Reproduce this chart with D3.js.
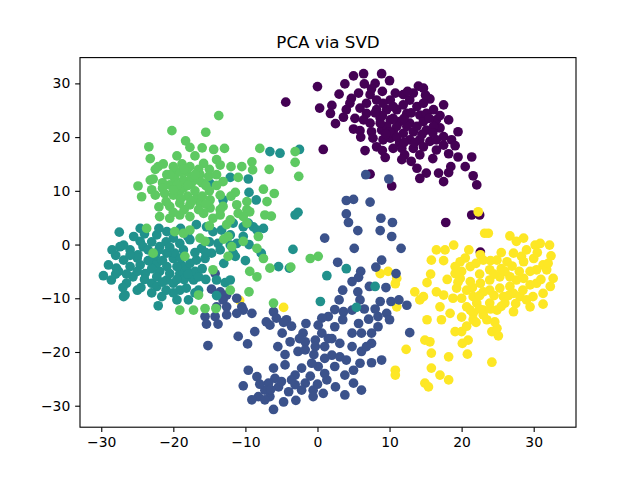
<!DOCTYPE html>
<html lang="en">
<head>
<meta charset="UTF-8">
<title>PCA via SVD</title>
<script src="https://d3js.org/d3.v7.min.js"></script>
<style>
    body { margin: 0; background: #fff; }
    svg { display: block; }
    .tick text { font-family: "DejaVu Sans", sans-serif; font-size: 13.9px; fill: #000; }
    .tick line { stroke: #000; stroke-width: 1.1px; }
    .title { font-family: "DejaVu Sans", sans-serif; font-size: 16.7px; fill: #000; }
</style>
</head>
<body>
<svg id="chart" width="640" height="480"></svg>
<script>
// cluster points, [pc1, pc2]
const cluster0 = [[5.0,31.4],[6.4,31.8],[8.9,31.8],[3.8,29.9],[6.5,29.9],[8.0,30.0],[0.0,29.4],[14.0,29.5],[14.7,29.1],[-4.4,26.5],[0.3,25.4],[2.0,25.9],[1.8,24.4],[3.6,23.7],[4.7,27.2],[4.5,26.3],[7.3,27.9],[8.2,26.9],[5.9,25.4],[5.2,23.5],[6.8,24.4],[10.8,28.2],[11.9,27.9],[10.1,26.9],[12.8,26.9],[15.6,27.1],[13.8,25.7],[16.1,25.1],[9.6,25.1],[11.0,25.1],[12.4,24.4],[14.2,24.1],[8.7,23.5],[10.1,23.2],[11.4,22.9],[12.8,22.6],[14.7,22.9],[16.5,23.2],[18.2,23.2],[5.0,21.5],[5.9,21.2],[7.5,21.0],[8.9,21.3],[7.7,19.8],[9.1,19.5],[10.5,21.0],[11.9,20.7],[13.3,21.0],[15.1,21.3],[17.0,21.7],[10.1,19.8],[11.4,18.9],[12.8,19.5],[14.2,19.5],[15.6,19.2],[17.5,20.1],[18.6,19.5],[19.1,18.4],[6.6,17.5],[8.2,18.2],[9.4,16.2],[11.7,17.9],[12.1,16.7],[11.7,15.8],[14.2,16.7],[16.5,17.6],[18.2,16.9],[19.5,16.3],[21.4,16.3],[0.8,17.7],[13.8,14.2],[15.1,13.3],[16.8,13.3],[18.2,13.4],[14.2,12.3],[17.5,11.7],[21.6,12.8],[22.1,11.1],[10.3,10.9],[7.3,13.1],[8.2,25.1],[9.6,22.0],[11.0,22.0],[11.9,26.0],[13.3,28.2],[14.7,26.3],[15.1,24.4],[16.1,22.0],[13.8,22.0],[12.4,22.0],[8.7,22.6],[7.3,22.6],[6.4,23.2],[4.0,25.1],[5.7,28.2],[6.8,26.3],[9.1,26.3],[10.5,25.7],[16.5,19.5],[14.7,18.2],[13.3,17.9],[10.5,17.9],[17.8,4.1],[21.4,5.5],[22.5,5.5],[22.6,-1.4],[9.0,24.0],[10.5,23.5],[12.0,23.5],[13.0,24.5],[10.0,21.0],[12.0,19.0],[13.5,19.0],[11.0,20.0],[9.5,20.5],[15.5,23.5],[17.0,24.0],[14.5,20.5],[16.0,20.8],[8.0,24.5],[6.0,20.0],[9.0,28.5],[12.5,28.5],[7.5,29.0],[10.0,30.5],[9.0,17.5],[13.0,15.5],[16.0,16.0],[17.5,18.5],[19.5,21.0],[18.5,14.5],[20.5,14.5],[3.0,28.0],[2.5,22.5],[15.0,27.8],[17.5,26.0]];

const cluster1 = [[6.7,13.0],[9.9,12.2],[4.0,8.2],[5.0,8.4],[7.3,7.9],[4.0,5.7],[4.3,4.1],[5.6,2.6],[8.8,4.9],[10.4,4.1],[8.7,2.6],[10.3,1.5],[1.0,1.2],[5.1,-0.7],[11.6,-0.7],[2.8,-3.3],[8.9,-2.9],[8.1,-4.2],[10.9,-5.4],[5.7,-6.1],[4.8,-6.9],[7.2,-7.8],[5.6,-8.8],[5.9,-10.3],[3.0,-10.3],[8.7,-10.6],[10.2,-10.6],[11.3,-10.3],[12.4,-11.3],[9.6,-12.8],[2.4,-12.1],[4.8,-12.2],[3.6,-12.5],[7.1,-13.9],[1.5,-13.4],[0.6,-13.7],[-10.5,-11.6],[-14.2,-5.4],[-14.7,-8.3],[-13.5,-8.8],[-12.6,-9.4],[-13.1,-10.3],[-12.6,-11.6],[-11.2,-10.0],[-10.3,-12.2],[-9.1,-12.8],[-11.2,-12.8],[-14.0,-11.6],[-15.6,-13.4],[-14.2,-13.4],[-12.6,-13.1],[-15.4,-14.8],[-13.8,-14.8],[-6.1,-12.5],[-5.7,-13.7],[-4.3,-14.0],[-7.1,-14.4],[-15.2,-18.8],[-6.6,-15.0],[-4.7,-14.5],[-3.6,-15.2],[-1.6,-14.7],[-8.7,-16.2],[-11.0,-17.1],[-9.7,-18.5],[-4.9,-16.5],[-3.8,-18.1],[-1.7,-18.1],[-0.3,-17.8],[0.6,-16.5],[0.1,-15.0],[2.4,-15.3],[5.7,-14.7],[8.4,-13.4],[6.1,-16.5],[7.5,-16.5],[8.4,-15.3],[4.8,-16.5],[3.1,-18.4],[4.8,-19.0],[6.1,-19.9],[7.5,-18.4],[12.8,-16.4],[-2.7,-19.9],[-1.7,-19.6],[-0.3,-19.0],[1.0,-19.0],[2.0,-20.6],[3.1,-20.9],[1.0,-21.2],[0.1,-22.7],[-0.8,-22.1],[-2.2,-23.0],[-3.1,-24.3],[-4.5,-22.4],[-6.1,-23.0],[-5.9,-24.9],[-6.8,-25.8],[-7.3,-27.1],[-6.6,-28.3],[-8.2,-28.3],[-9.1,-28.9],[-6.1,-30.7],[-4.7,-29.3],[-4.0,-27.4],[-3.1,-26.1],[-1.7,-25.8],[-2.2,-27.1],[-0.6,-27.1],[-0.6,-28.3],[0.8,-27.7],[1.3,-25.2],[2.4,-22.7],[3.8,-24.3],[5.0,-23.4],[5.9,-22.1],[7.5,-22.0],[8.9,-21.5],[5.0,-25.8],[6.1,-27.1],[3.8,-28.0],[-9.6,-23.4],[-8.4,-24.6],[-10.3,-26.3],[-7.3,-28.9],[-5.4,-26.5],[-3.6,-25.2],[2.0,-17.5],[-1.0,-24.5],[-4.5,-20.5],[6.8,-19.0],[-2.0,-16.5],[1.5,-17.5],[3.5,-14.0],[6.5,-12.0],[8.0,-12.0],[-6.5,-27.0],[-5.0,-25.5],[-8.0,-26.0],[-3.0,-29.0],[0.0,-26.0],[2.5,-26.5],[-0.5,-20.5],[4.0,-21.5],[1.0,-24.0],[-2.5,-17.5],[-5.5,-19.0],[10.0,-14.0],[6.0,-5.0],[3.5,-8.5],[9.5,-8.0]];

const cluster2 = [[-6.6,17.3],[-5.2,17.0],[-2.5,17.7],[-12.1,12.5],[-9.6,12.2],[-14.9,11.4],[-9.5,9.7],[-13.1,8.3],[-8.5,8.3],[-2.7,6.0],[-27.5,2.3],[-24.6,3.0],[-26.9,-0.1],[-27.4,-0.4],[-24.6,0.6],[-24.2,-0.4],[-24.9,-1.9],[-22.3,1.8],[-20.9,2.4],[-20.0,1.2],[-19.1,0.2],[-17.7,0.9],[-16.8,3.7],[-15.4,3.3],[-14.5,2.4],[-13.3,2.7],[-11.7,4.0],[-10.3,3.3],[-8.9,3.3],[-7.5,3.0],[-29.0,-3.8],[-29.7,-5.8],[-28.6,-6.6],[-27.6,-5.0],[-26.9,-2.9],[-26.0,-4.1],[-25.6,-6.0],[-24.6,-3.8],[-23.9,-5.4],[-23.0,-7.2],[-22.3,-7.8],[-21.9,-5.0],[-20.9,-4.1],[-20.0,-2.6],[-19.8,-1.6],[-18.9,-3.8],[-18.2,-4.7],[-17.5,-6.0],[-16.8,-2.9],[-15.6,-2.6],[-20.9,-6.6],[-20.0,-7.2],[-19.1,-8.5],[-18.2,-8.1],[-17.2,-6.6],[-19.5,-10.3],[-17.9,-10.3],[-21.6,-9.7],[-22.1,-11.4],[-26.7,-9.4],[-26.9,-9.7],[-13.8,0.2],[-12.1,1.8],[-11.2,0.2],[-11.7,-1.6],[-10.3,1.5],[-8.4,2.7],[-7.8,-1.6],[-5.4,-4.1],[-3.9,-4.4],[-14.0,-6.6],[-12.8,-7.1],[-12.1,-6.6],[-16.1,-0.7],[-14.7,-1.6],[-23.2,-2.9],[-22.3,-3.5],[-20.5,-5.4],[-19.1,-5.4],[-17.7,-3.5],[-26.0,-1.0],[-21.9,-0.4],[-20.9,-1.6],[-18.6,-1.0],[-22.3,-6.0],[-19.5,-4.1],[-26.5,-7.2],[-27.9,-4.4],[-12.1,-0.1],[-11.4,-2.2],[-3.4,-0.9],[-3.1,5.5],[1.3,-5.8],[4.0,-4.5],[8.0,-7.8],[0.4,-10.6],[5.4,-11.7],[-9.6,4.0],[-25.0,-2.5],[-23.5,-1.0],[-22.5,-2.0],[-21.5,-3.0],[-24.0,-6.5],[-21.5,-7.0],[-20.0,-9.0],[-18.5,-6.5],[-17.0,-5.0],[-16.0,-4.5],[-15.5,-6.5],[-19.0,-2.5],[-21.0,0.5],[-23.0,0.5],[-25.5,1.5],[-28.0,-2.0],[-27.0,-8.0],[-25.0,-8.5],[-16.5,-8.5],[-18.0,1.5],[-15.0,0.5],[-13.0,-3.5],[-9.5,0.0],[-10.0,-3.0],[-14.0,-9.5],[-23.0,-9.0],[-28.5,-1.0],[-26.0,-2.0],[-25.0,-5.0],[-23.0,-4.5],[-22.0,-1.0],[-20.5,-0.5],[-19.5,-6.5],[-18.0,-5.5],[-16.5,-6.0],[-17.0,-9.0],[-21.0,-8.5],[-24.5,-8.0],[-28.0,-5.5],[-26.5,-5.5],[-23.5,-3.0],[-24.0,2.0],[-22.0,3.0],[-19.0,3.0],[-17.0,-1.5],[-15.5,-1.5],[-13.5,-1.0]];

const cluster3 = [[-13.7,24.0],[-20.2,21.2],[-15.5,20.9],[-18.3,19.3],[-17.7,18.1],[-23.4,18.2],[-14.4,17.7],[-12.9,17.9],[-8.0,17.9],[-23.2,16.0],[-22.1,14.5],[-21.4,15.0],[-18.8,15.0],[-17.7,14.5],[-15.8,15.1],[-14.0,15.8],[-13.5,14.8],[-9.1,15.4],[-9.0,13.9],[-6.7,14.0],[-3.1,15.3],[-3.1,17.3],[-2.6,12.7],[-24.9,10.9],[-24.4,8.9],[-23.2,12.0],[-22.8,12.2],[-23.0,10.2],[-22.5,9.2],[-21.2,9.5],[-20.5,11.1],[-19.8,13.9],[-19.8,12.3],[-18.6,12.0],[-18.2,13.6],[-17.5,11.4],[-16.3,13.0],[-15.1,12.7],[-14.0,13.0],[-13.1,11.7],[-11.4,9.7],[-13.5,9.2],[-7.5,10.3],[-9.8,8.0],[-14.9,8.3],[-16.8,8.6],[-19.1,9.9],[-20.0,9.2],[-20.9,13.0],[-18.6,10.5],[-20.5,7.1],[-19.1,7.7],[-17.7,7.4],[-16.3,7.7],[-14.9,6.8],[-13.1,7.1],[-11.2,7.4],[-9.8,6.5],[-21.9,5.2],[-20.5,4.9],[-19.1,5.5],[-17.7,5.2],[-15.8,5.8],[-14.5,4.9],[-13.5,5.5],[-12.1,4.6],[-11.0,5.8],[-9.4,6.1],[-7.3,5.5],[-6.4,5.3],[-19.8,2.4],[-18.6,2.1],[-17.7,2.7],[-16.3,1.2],[-15.6,0.6],[-12.6,3.7],[-9.8,4.0],[-8.2,1.5],[-10.3,0.6],[-11.9,-0.4],[-12.4,-2.2],[-8.4,-0.7],[-7.5,-2.6],[-6.6,-4.4],[-9.4,-5.0],[-8.4,-6.0],[-18.4,-2.2],[-22.8,-1.6],[-23.7,3.0],[-14.5,-4.7],[-12.1,-8.5],[-9.5,-8.8],[-6.1,-10.9],[-19.1,-12.2],[-17.2,-12.2],[-15.6,-11.9],[-14.1,-11.9],[-16.5,-9.4],[-10.3,5.2],[-12.4,1.5],[-1.0,-2.6],[0.1,-2.2],[-3.7,-4.2],[-19.5,11.0],[-17.0,10.0],[-16.0,11.5],[-18.0,9.0],[-15.0,10.0],[-17.5,12.5],[-19.0,13.5],[-16.5,14.0],[-20.0,14.5],[-14.0,11.0],[-21.5,11.5],[-16.0,9.0],[-21.5,10.5],[-20.0,10.2],[-18.0,11.0],[-16.5,12.0],[-15.5,11.0],[-17.0,13.0],[-18.5,14.0],[-20.5,13.0],[-19.0,8.5],[-17.5,8.0],[-15.5,7.5],[-13.5,6.5],[-12.0,9.0],[-21.0,8.0],[-22.0,7.0],[-16.5,6.5],[-18.5,6.5],[-20.0,6.0],[-15.0,14.0],[-12.0,14.5],[-11.0,12.5],[-10.5,14.5],[-22.5,14.0],[-17.0,16.5],[-19.5,16.5],[-16.0,18.0],[-15.0,3.5],[-13.0,1.0],[-7.0,8.0],[-6.0,9.5]];

const cluster4 = [[22.3,6.1],[23.2,2.1],[23.7,2.1],[26.7,1.6],[27.6,0.6],[28.6,1.2],[30.2,-0.1],[30.9,0.2],[32.2,-0.1],[32.4,-2.1],[32.7,-6.3],[31.3,-11.1],[16.5,-1.0],[17.7,-1.0],[18.9,-0.1],[15.8,-2.9],[15.7,-5.5],[15.2,-7.1],[13.5,-8.8],[14.2,-10.3],[14.7,-9.7],[16.5,-8.8],[17.5,-9.4],[17.0,-11.6],[15.2,-14.0],[17.2,-14.0],[18.4,-12.8],[19.1,-16.2],[20.0,-16.2],[20.7,-15.2],[20.1,-18.4],[20.9,-17.8],[20.8,-20.4],[18.2,-20.9],[14.9,-17.8],[15.6,-18.1],[15.8,-20.2],[12.3,-19.5],[10.8,-23.4],[10.8,-24.3],[15.8,-23.0],[17.0,-24.3],[18.2,-25.2],[14.9,-25.8],[15.4,-26.5],[24.2,-21.9],[24.2,-16.2],[25.1,-17.0],[24.9,-15.6],[24.6,-14.4],[22.6,-1.9],[23.0,-2.9],[19.8,-3.2],[19.1,-4.1],[20.0,-5.0],[21.2,-4.1],[23.9,-4.7],[24.9,-2.9],[26.3,-3.2],[27.2,-1.6],[28.3,-2.2],[28.6,-3.2],[30.0,-2.6],[31.3,-3.8],[30.4,-4.7],[31.8,-4.7],[29.5,-5.0],[30.4,-7.2],[28.6,-6.3],[27.6,-6.6],[26.7,-6.0],[25.3,-6.0],[23.9,-6.6],[22.6,-7.2],[21.2,-6.9],[19.8,-6.3],[19.1,-5.4],[19.3,-8.1],[18.8,-10.0],[20.7,-8.5],[21.6,-9.7],[22.1,-10.9],[20.7,-11.6],[21.6,-12.8],[23.0,-12.2],[23.9,-10.9],[24.9,-12.2],[25.8,-9.7],[27.2,-9.1],[28.1,-9.7],[29.0,-10.3],[29.5,-11.6],[29.9,-9.7],[31.3,-9.1],[32.3,-7.8],[27.2,-12.5],[26.0,-10.9],[23.9,-8.5],[25.3,-8.1],[26.7,-7.8],[23.0,-8.8],[21.6,-14.0],[23.0,-13.1],[21.2,-12.2],[8.7,-5.4],[9.8,-5.0],[11.0,-6.3],[10.8,-7.3],[11.0,-11.6],[-10.8,-10.4],[-4.7,-11.7],[20.5,-2.5],[22.0,-3.5],[24.0,-3.0],[25.5,-4.5],[27.0,-4.0],[22.5,-5.5],[24.5,-5.5],[26.0,-5.0],[28.0,-5.0],[21.5,-8.0],[22.5,-9.5],[24.5,-9.5],[25.5,-11.5],[27.5,-11.0],[28.5,-8.5],[26.5,-9.5],[24.0,-12.0],[22.5,-12.0],[20.0,-10.0],[19.5,-7.0],[18.0,-6.5],[17.5,-3.0],[21.0,-1.0],[25.5,-1.5],[29.0,-1.0],[30.5,-1.5],[32.0,-3.5],[29.5,-7.5],[31.0,-6.5],[22.0,-14.5],[23.5,-14.0],[20.0,-13.5]];

// viridis at 0, .25, .5, .75, 1 for labels 0..4
const clusterColors = ["#440154", "#3b528b", "#21918c", "#5ec962", "#fde725"];
const drawOrder = [0, 4, 1, 2, 3];
const xTicks = [-30, -20, -10, 0, 10, 20, 30];
const yTicks = [-30, -20, -10, 0, 10, 20, 30];
const xLimits = [-32.95, 35.87];
const yLimits = [-34.0, 34.8];
const chartTitle = "PCA via SVD";

const clusters = [cluster0, cluster1, cluster2, cluster3, cluster4];

const margin = {left: 80, right: 64, top: 57.6, bottom: 52.8};
const width = 640, height = 480;
const svg = d3.select("#chart");

const x = d3.scaleLinear().domain(xLimits).range([margin.left, width - margin.right]);
const y = d3.scaleLinear().domain(yLimits).range([height - margin.bottom, margin.top]);

const points = [];
drawOrder.forEach(k => {
    clusters[k].forEach(p => points.push({x: p[0], y: p[1], label: k}));
});

svg.append("g")
    .selectAll("circle")
    .data(points)
    .join("circle")
    .attr("cx", d => x(d.x))
    .attr("cy", d => y(d.y))
    .attr("r", 4.85)
    .attr("fill", d => clusterColors[d.label]);

const xAxis = svg.append("g")
    .attr("transform", `translate(0,${height - margin.bottom})`)
    .call(d3.axisBottom(x).tickValues(xTicks).tickSize(4.86).tickPadding(4.86).tickFormat(d3.format("d")));
xAxis.select(".domain").remove();

const yAxis = svg.append("g")
    .attr("transform", `translate(${margin.left},0)`)
    .call(d3.axisLeft(y).tickValues(yTicks).tickSize(4.86).tickPadding(4.86).tickFormat(d3.format("d")));
yAxis.select(".domain").remove();

// axes frame
svg.append("rect")
    .attr("x", margin.left)
    .attr("y", margin.top)
    .attr("width", width - margin.left - margin.right)
    .attr("height", height - margin.top - margin.bottom)
    .attr("fill", "none")
    .attr("stroke", "#000")
    .attr("stroke-width", 1.1);

svg.append("text")
    .attr("class", "title")
    .attr("x", (margin.left + width - margin.right) / 2)
    .attr("y", margin.top - 10)
    .attr("text-anchor", "middle")
    .text(chartTitle);
</script>
</body>
</html>
